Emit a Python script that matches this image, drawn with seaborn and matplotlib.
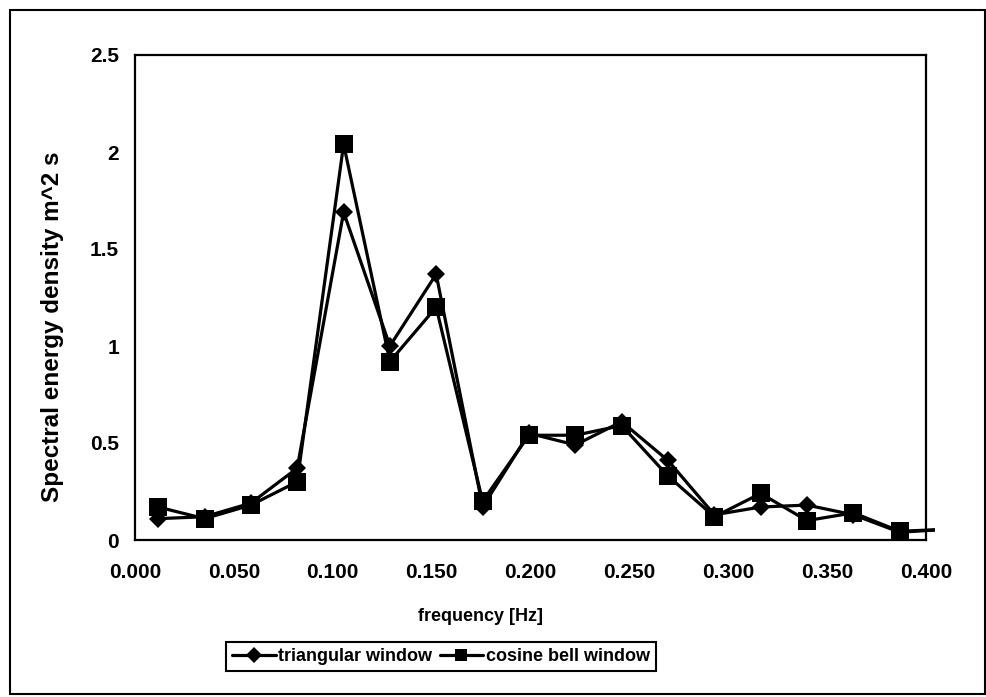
import matplotlib
matplotlib.use("Agg")
import matplotlib.pyplot as plt
import seaborn as sns
import pandas as pd
from matplotlib.patches import Rectangle
from matplotlib.transforms import Bbox, TransformedBbox

# Spectral estimates for two window functions
frequency = [0.0117, 0.0352, 0.0586, 0.0820, 0.1055, 0.1289, 0.1523, 0.1758,
             0.1992, 0.2227, 0.2461, 0.2695, 0.2930, 0.3164, 0.3398, 0.3633,
             0.3867, 0.4102]
triangular = [0.11, 0.12, 0.19, 0.37, 1.69, 1.00, 1.37, 0.17,
              0.55, 0.49, 0.61, 0.41, 0.13, 0.17, 0.18, 0.13,
              0.04, 0.055]
cosine_bell = [0.17, 0.11, 0.18, 0.30, 2.04, 0.92, 1.20, 0.20,
               0.54, 0.54, 0.59, 0.33, 0.12, 0.24, 0.10, 0.14,
               0.045, 0.055]
series_names = ["triangular window", "cosine bell window"]
x_ticks = [0.0, 0.05, 0.10, 0.15, 0.20, 0.25, 0.30, 0.35, 0.40]
y_ticks = [0, 0.5, 1.0, 1.5, 2.0, 2.5]
y_tick_labels = ["0", "0.5", "1", "1.5", "2", "2.5"]

sns.set_style("white")
plt.rcParams["font.family"] = ["Liberation Sans", "DejaVu Sans"]
plt.rcParams["font.weight"] = "bold"
plt.rcParams["text.color"] = "black"
plt.rcParams["axes.labelcolor"] = "black"

W, H = 987, 697
fig = plt.figure(figsize=(W / 100, H / 100), dpi=100)
ax = fig.add_axes([135 / W, 1 - 540 / H, (926 - 135) / W, (540 - 55) / H])

df = pd.DataFrame({"frequency": frequency,
                   series_names[0]: triangular,
                   series_names[1]: cosine_bell})

n_marked = len(frequency) - 1
sns.lineplot(data=df, x="frequency", y=series_names[0], ax=ax, color="black",
             marker="D", markersize=9.5, linewidth=2.3, markeredgewidth=0,
             markevery=slice(0, n_marked), label=series_names[0])
sns.lineplot(data=df, x="frequency", y=series_names[1], ax=ax, color="black",
             marker="s", markersize=12.5, linewidth=2.3, markeredgewidth=0,
             markevery=slice(0, n_marked), label=series_names[1])

ax.set_xlim(0, 0.4)
ax.set_ylim(0, 2.5)

# let the trailing segment run just past the right edge of the plot area
clip = TransformedBbox(Bbox.from_extents(0, -0.2, 0.4046, 2.7), ax.transData)
for ln in ax.get_lines():
    ln.set_clip_box(clip)

ax.set_xticks(x_ticks)
ax.set_xticklabels([f"{v:.3f}" for v in x_ticks])
ax.set_yticks(y_ticks)
ax.set_yticklabels(y_tick_labels)
ax.tick_params(axis="both", direction="inout", length=7, width=1.5,
               colors="black", labelsize=15)
ax.tick_params(axis="x", pad=13)
ax.tick_params(axis="y", pad=8)
for lab in ax.get_xticklabels() + ax.get_yticklabels():
    lab.set_fontweight("bold")

for sp in ax.spines.values():
    sp.set_visible(True)
    sp.set_color("black")
    sp.set_linewidth(1.6)

ax.set_xlabel("frequency [Hz]", fontsize=13, fontweight="bold", color="black")
ax.set_ylabel("Spectral energy density m^2 s", fontsize=17.5, fontweight="bold",
              color="black")
ax.xaxis.set_label_coords((481 - 135) / (926 - 135), (540 - 608) / 485)
ax.yaxis.set_label_coords((64 - 135) / (926 - 135), (540 - 327) / 485)

ax.get_legend().remove()
handles, labels = ax.get_legend_handles_labels()
leg = fig.legend(handles, labels, loc="center", ncol=2,
                 bbox_to_anchor=(441 / W, 1 - 656.5 / H),
                 fontsize=13, frameon=True, fancybox=False, shadow=False,
                 edgecolor="black", handlelength=2.4, handletextpad=0.15,
                 columnspacing=0.4, borderpad=0.35, borderaxespad=0)
leg.get_frame().set_linewidth(1.5)
leg.get_frame().set_alpha(1)
for h in leg.legend_handles:
    h.set_markersize(8)
for t in leg.get_texts():
    t.set_fontweight("bold")
    t.set_color("black")

# outer chart border
fig.patches.append(Rectangle((10 / W, 1 - 694 / H), (985 - 10) / W, (694 - 10) / H,
                             transform=fig.transFigure, fill=False,
                             edgecolor="black", linewidth=1.5))

fig.savefig("out.png", dpi=100, facecolor="white")
